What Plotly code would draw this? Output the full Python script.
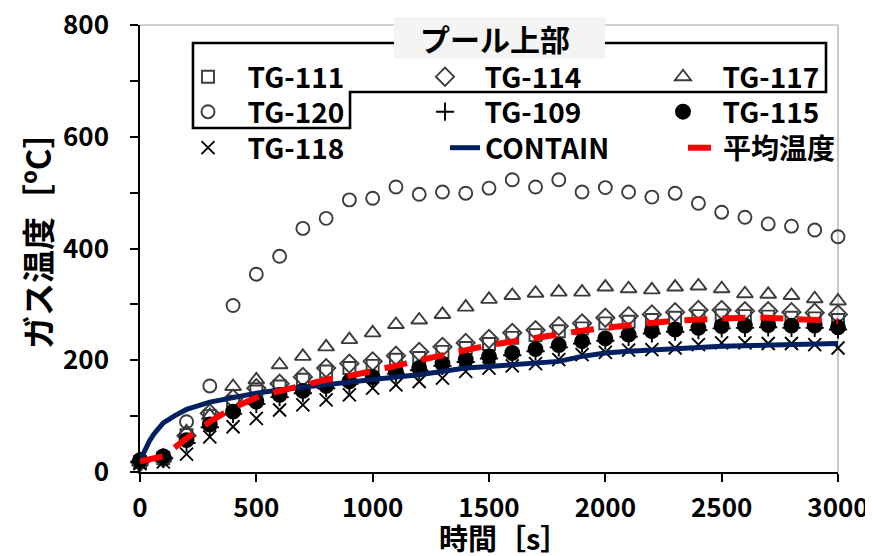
import plotly.graph_objects as go

# ---------------- data ----------------
time_s = [0, 100, 200, 300, 400, 500, 600, 700, 800, 900, 1000, 1100, 1200, 1300, 1400, 1500,
          1600, 1700, 1800, 1900, 2000, 2100, 2200, 2300, 2400, 2500, 2600, 2700, 2800, 2900, 3000]

tg111 = [18, 25, 66, 100, 126, 144, 153, 165, 180, 186, 190, 201, 204, 215, 222, 229,
         240, 245, 252, 257, 266, 269, 272, 276, 279, 280, 279, 278, 276, 275, 272]
tg114 = [18, 25, 65, 105, 131, 150, 158, 170, 186, 194, 198, 208, 215, 224, 231, 238,
         249, 254, 261, 266, 276, 279, 282, 286, 290, 290, 288, 288, 286, 285, 282]
tg117 = [18, 25, 72, 101, 153, 165, 192, 207, 224, 237, 249, 264, 272, 282, 295, 309,
         316, 320, 322, 322, 331, 328, 326, 331, 333, 328, 319, 318, 316, 310, 306]
tg120 = [20, 28, 90, 154, 298, 354, 386, 436, 454, 487, 490, 510, 497, 501, 499, 508,
         523, 510, 523, 501, 509, 501, 492, 499, 481, 465, 456, 444, 440, 433, 421]
tg109 = [18, 24, 52, 80, 104, 122, 134, 141, 150, 158, 166, 176, 182, 190, 197, 203,
         209, 216, 223, 230, 235, 242, 248, 251, 254, 257, 258, 259, 258, 258, 255]
tg115 = [21, 28, 57, 85, 108, 126, 138, 145, 154, 162, 170, 180, 186, 194, 201, 207,
         213, 220, 227, 234, 239, 246, 252, 255, 258, 261, 262, 263, 262, 262, 259]
tg118 = [15, 18, 32, 63, 81, 96, 111, 120, 129, 138, 150, 156, 162, 168, 180, 186,
         190, 194, 201, 210, 214, 218, 219, 222, 228, 231, 231, 230, 230, 228, 222]
avg_temp = [19, 28, 60, 90, 115, 133, 145, 155, 165, 172, 180, 190, 200, 210, 218, 227,
            234, 240, 246, 253, 258, 263, 267, 271, 273, 275, 276, 276, 274, 273, 270]

contain_t = [0, 20, 40, 60, 80, 100, 150, 200, 300, 400, 500, 600, 700, 800, 900, 1000,
             1100, 1200, 1300, 1400, 1500, 1600, 1700, 1800, 1900, 2000, 2100, 2200, 2300,
             2400, 2500, 2600, 2700, 2800, 2900, 3000]
contain_v = [20, 40, 55, 68, 79, 88, 101, 112, 125, 134, 141, 147, 152, 156, 160, 165,
             170, 174, 181, 186, 189, 192, 195, 198, 207, 213, 216, 219, 221, 223, 225, 226,
             227, 228, 229, 230]

x_ticks = [0, 500, 1000, 1500, 2000, 2500, 3000]
y_ticks = [0, 200, 400, 600, 800]

FONT = "Noto Sans CJK JP"
GRAY = "#3c3c3c"
PAD = "\u2002\u2009"

# page offset (body margin) and plot area in page pixels
OFF = 8
L, R, T, B = 140, 838, 25, 472
PW, PH = 873, 556
W, H = PW - OFF, PH - OFF


def px(xp):
    return (xp - L) / (R - L)


def py(yp):
    return (B - yp) / (B - T)


fig = go.Figure()

marker_series = [
    ("TG-111", tg111, "square-open", GRAY, 12, "legend"),
    ("TG-114", tg114, "diamond-open", GRAY, 14, "legend2"),
    ("TG-117", tg117, "triangle-up-open", GRAY, 14, "legend3"),
    ("TG-120", tg120, "circle-open", GRAY, 13, "legend4"),
    ("TG-109", tg109, "cross-thin-open", "black", 13, "legend5"),
    ("TG-115", tg115, "circle", "black", 14, "legend6"),
    ("TG-118", tg118, "x-thin-open", "black", 13, "legend7"),
]
for name, vals, sym, col, size, lg in marker_series:
    fig.add_trace(go.Scatter(
        x=time_s, y=vals, mode="markers", name=PAD + name, legend=lg,
        cliponaxis=False,
        marker=dict(symbol=sym, size=size, color=col, line=dict(width=1.9, color=col)),
    ))

fig.add_trace(go.Scatter(
    x=contain_t, y=contain_v, mode="lines", name="CONTAIN", legend="legend8",
    line=dict(color="#002060", width=5),
))
fig.add_trace(go.Scatter(
    x=time_s, y=avg_temp, mode="lines", name="平均温度", legend="legend9",
    line=dict(color="#ff0000", width=6, dash="23px,15px"),
))

legend_font = dict(family=FONT, size=28, color="black", weight="bold")
rows = [77, 112, 148]
cols = [188, 425, 663]
legend_pos = {
    "legend": (cols[0], rows[0]), "legend2": (cols[1], rows[0]), "legend3": (cols[2], rows[0]),
    "legend4": (cols[0], rows[1]), "legend5": (cols[1], rows[1]), "legend6": (cols[2], rows[1]),
    "legend7": (cols[0], rows[2]), "legend8": (445, rows[2]), "legend9": (683, rows[2]),
}
legend_layout = {}
for key, (lx, ly) in legend_pos.items():
    legend_layout[key] = dict(
        x=px(lx), y=py(ly), xanchor="left", yanchor="middle",
        bgcolor="rgba(0,0,0,0)", borderwidth=0, font=legend_font,
        itemclick=False, itemdoubleclick=False,
    )

frame = [(193, 43), (826, 43), (826, 92), (350, 92), (350, 128), (193, 128)]
path = "M " + " L ".join(f"{px(a):.4f},{py(b):.4f}" for a, b in frame) + " Z"

fig.update_layout(
    width=W, height=H,
    margin=dict(l=L - OFF, r=PW - R, t=T - OFF, b=PH - B, autoexpand=False),
    paper_bgcolor="white", plot_bgcolor="white",
    font=dict(family=FONT, color="black"),
    showlegend=True,
    **legend_layout,
    xaxis=dict(
        range=[0, 3000], tickvals=x_ticks, ticks="outside", ticklen=8, tickwidth=1.5,
        tickcolor="black", showline=True, linecolor="black", linewidth=1.5,
        showgrid=False, zeroline=False, ticklabelstandoff=4, ticklabeloverflow="allow",
        tickfont=dict(family=FONT, size=26, color="black", weight="bold"),
    ),
    yaxis=dict(
        range=[0, 800], tickvals=y_ticks, ticks="outside", ticklen=8, tickwidth=1.5,
        tickcolor="black", showline=True, linecolor="black", linewidth=1.5,
        showgrid=False, zeroline=False, ticklabelstandoff=16, ticklabeloverflow="allow",
        minor=dict(dtick=100, ticks="outside", ticklen=8, tickwidth=1.5, tickcolor="black"),
        tickfont=dict(family=FONT, size=26, color="black", weight="bold"),
    ),
    shapes=[
        dict(type="line", xref="paper", yref="paper", x0=0, x1=1, y0=1, y1=1,
             line=dict(color="#a6a6a6", width=1.2), layer="below"),
        dict(type="line", xref="paper", yref="paper", x0=1, x1=1, y0=0, y1=1,
             line=dict(color="#a6a6a6", width=1.2), layer="below"),
        dict(type="path", xref="paper", yref="paper", path=path,
             line=dict(color="black", width=2.6), layer="above"),
        dict(type="rect", xref="paper", yref="paper", x0=px(394), x1=px(605),
             y0=py(59), y1=py(17), fillcolor="#f4f4f4", line=dict(width=0), layer="above"),
    ],
    annotations=[
        dict(text="プール上部", xref="paper", yref="paper", x=px(495), y=py(38),
             xanchor="center", yanchor="middle", showarrow=False,
             font=dict(family=FONT, size=30, color="black", weight="bold")),
        dict(text="時間［s］", xref="paper", yref="paper", x=px(504), y=py(537),
             xanchor="center", yanchor="middle", showarrow=False,
             font=dict(family=FONT, size=29, color="black", weight="bold")),
        dict(text="ガス温度［ºC］", xref="paper", yref="paper", x=px(37), y=py(232),
             xanchor="center", yanchor="middle", showarrow=False, textangle=-90,
             font=dict(family=FONT, size=33, color="black", weight="bold")),
    ],
)

fig.write_html("out.html")
